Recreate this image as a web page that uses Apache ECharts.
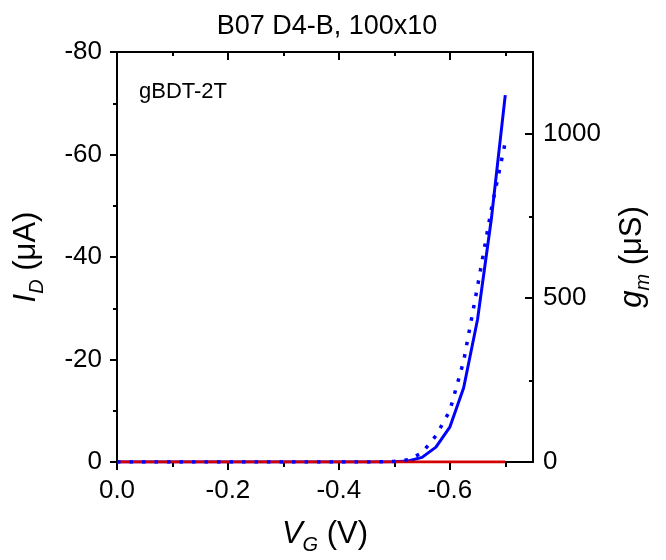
<!DOCTYPE html>
<html>
<head>
<meta charset="utf-8">
<script src="https://cdn.jsdelivr.net/npm/echarts@6/dist/echarts.min.js"></script>
<style>
html,body{margin:0;padding:0;background:#fff;}
#chart{width:666px;height:560px;}
</style>
</head>
<body>
<div id="chart"></div>
<script>
// Gate voltage V_G (V)
var vg = [0, -0.025, -0.05, -0.075, -0.1, -0.125, -0.15, -0.175, -0.2, -0.225,
          -0.25, -0.275, -0.3, -0.325, -0.35, -0.375, -0.4, -0.425, -0.45, -0.475,
          -0.5, -0.525, -0.55, -0.575, -0.6, -0.625, -0.65, -0.675, -0.7];
// Drain current I_D (uA)
var idCurrent = [0, 0, 0, 0, 0, 0, 0, 0, 0, 0,
                 0, 0, 0, 0, 0, 0, 0, 0, 0, -0.01,
                 -0.05, -0.2, -0.9, -2.9, -6.8, -14.5, -27.8, -47.5, -71.6];
// Transconductance g_m (uS)
var gm = [0, 0, 0, 0, 0, 0, 0, 0, 0, 0,
          0, 0, 0, 0, 0, 0, 0, 0, 0, 0.5,
          2, 7, 28, 80, 156, 308, 535, 772, 975];
// Gate current (uA), flat at zero
var igCurrent = [0, 0, 0, 0, 0, 0, 0, 0, 0, 0,
                 0, 0, 0, 0, 0, 0, 0, 0, 0, 0,
                 0, 0, 0, 0, 0, 0, 0, 0, 0];

var xMajorTicks = [0, -0.2, -0.4, -0.6];
var xMinorTicks = [-0.1, -0.3, -0.5, -0.7];
var gmMajorTicks = [0, 500, 1000];
var gmMinorTicks = [250, 750];

var titleText = 'B07 D4-B, 100x10';
var sampleText = 'gBDT-2T';

function pairs(xs, ys) { return xs.map(function (x, i) { return [x, ys[i]]; }); }

var FONT = "'Liberation Sans', Arial, sans-serif";
var black = '#000';
var TICKFONT = 26;
var GRID = { left: 117, right: 133, top: 52, bottom: 97, containLabel: false };

var nameRich = {
  i: { fontSize: 31, fontStyle: 'italic', fontFamily: FONT, color: black, verticalAlign: 'bottom', padding: [0, 0, 5, 0] },
  s: { fontSize: 20, fontStyle: 'italic', fontFamily: FONT, color: black, verticalAlign: 'bottom' },
  n: { fontSize: 31, fontFamily: FONT, color: black, verticalAlign: 'bottom', padding: [0, 0, 5, 0] }
};

function xAx(grid, pos, ticks, len, inside, showLine, showLabel, name) {
  var o = {
    gridIndex: grid, type: 'value', position: pos, min: -0.75, max: 0, inverse: true,
    axisLine: { show: showLine, onZero: false, lineStyle: { color: black, width: 2 } },
    axisTick: { show: true, inside: inside, length: len, customValues: ticks, lineStyle: { color: black, width: 2 } },
    axisLabel: { show: showLabel, customValues: ticks, margin: 16, fontSize: TICKFONT, color: black, fontFamily: FONT,
                 formatter: function (v) { return (Math.abs(v) < 1e-9 ? 0 : v).toFixed(1); } },
    splitLine: { show: false }
  };
  if (name) {
    o.name = '{i|V}{s|G}{n| (V)}';
    o.nameLocation = 'middle';
    o.nameGap = 57;
    o.nameTextStyle = { fontFamily: FONT, color: black, rich: nameRich };
  }
  return o;
}

var option = {
  animation: false,
  backgroundColor: '#fff',
  grid: [GRID, GRID],
  graphic: [
    { type: 'text', x: 327, y: 27, style: { text: titleText, fontSize: 27, fontFamily: FONT, fill: black, textAlign: 'center', textVerticalAlign: 'middle' } },
    { type: 'text', x: 139, y: 92, style: { text: sampleText, fontSize: 22, fontFamily: FONT, fill: black, textAlign: 'left', textVerticalAlign: 'middle' } }
  ],
  xAxis: [
    xAx(0, 'bottom', xMajorTicks, 8, false, true, true, true),
    xAx(0, 'top', xMajorTicks, 8, true, true, false, false),
    xAx(1, 'bottom', xMinorTicks, 4, false, false, false, false),
    xAx(1, 'top', xMinorTicks, 4, true, false, false, false)
  ],
  yAxis: [
    {
      gridIndex: 0, type: 'value', position: 'left', min: -80, max: 0, interval: 20, inverse: true,
      axisLine: { show: true, onZero: false, lineStyle: { color: black, width: 2 } },
      axisTick: { show: true, inside: false, length: 7, lineStyle: { color: black, width: 2 } },
      minorTick: { show: true, splitNumber: 2, length: 4, lineStyle: { color: black, width: 2 } },
      axisLabel: { margin: 15, fontSize: TICKFONT, color: black, fontFamily: FONT },
      splitLine: { show: false },
      name: '{i|I}{s|D}{n| (\u03bcA)}',
      nameLocation: 'middle', nameRotate: 90, nameGap: 70,
      nameTextStyle: { fontFamily: FONT, color: black, rich: nameRich }
    },
    {
      gridIndex: 0, type: 'value', position: 'right', min: 0, max: 1250,
      axisLine: { show: true, onZero: false, lineStyle: { color: black, width: 2 } },
      axisTick: { show: true, inside: true, length: 8, customValues: gmMajorTicks, lineStyle: { color: black, width: 2 } },
      axisLabel: { margin: 10, fontSize: TICKFONT, color: black, fontFamily: FONT, customValues: gmMajorTicks,
                   formatter: function (v) { return String(v); } },
      splitLine: { show: false },
      name: '{i|g}{s|m}{n| (\u03bcS)}',
      nameLocation: 'middle', nameRotate: 90, nameGap: 84,
      nameTextStyle: { fontFamily: FONT, color: black, rich: nameRich }
    },
    {
      gridIndex: 1, type: 'value', position: 'right', min: 0, max: 1250,
      axisLine: { show: false, onZero: false },
      axisTick: { show: true, inside: true, length: 4, customValues: gmMinorTicks, lineStyle: { color: black, width: 2 } },
      axisLabel: { show: false },
      splitLine: { show: false }
    }
  ],
  series: [
    {
      name: 'I_D', type: 'line', xAxisIndex: 0, yAxisIndex: 0, data: pairs(vg, idCurrent),
      showSymbol: false, symbol: 'none', lineStyle: { color: '#0000ff', width: 3 }, z: 3
    },
    {
      name: 'I_G', type: 'line', xAxisIndex: 0, yAxisIndex: 0, data: pairs(vg, igCurrent),
      showSymbol: false, symbol: 'none', lineStyle: { color: '#d40000', width: 3 }, z: 4
    },
    {
      name: 'g_m', type: 'line', xAxisIndex: 0, yAxisIndex: 1, data: pairs(vg, gm),
      showSymbol: false, symbol: 'none', lineStyle: { color: '#0000ff', width: 3.5, type: [3.5, 9] }, z: 5
    }
  ]
};

var chart = echarts.init(document.getElementById('chart'), null, { renderer: 'canvas' });
chart.setOption(option);
</script>
</body>
</html>
